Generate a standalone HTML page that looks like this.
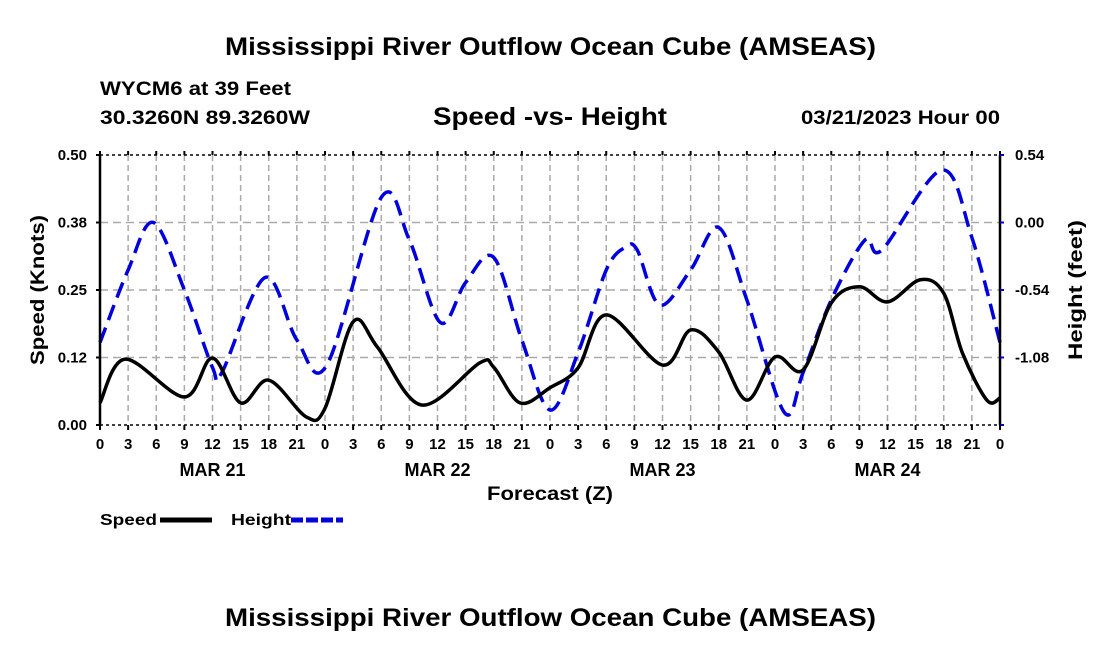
<!DOCTYPE html>
<html><head><meta charset="utf-8"><style>
body{margin:0;background:#fff;}
svg{display:block;font-family:"Liberation Sans",Arial,sans-serif;font-weight:bold;}
</style></head><body>
<svg id="chart" width="1100" height="650" viewBox="0 0 1100 650">
<text x="225" y="55" font-size="25" textLength="651" lengthAdjust="spacingAndGlyphs">Mississippi River Outflow Ocean Cube (AMSEAS)</text>
<text x="100" y="95" font-size="19" textLength="191" lengthAdjust="spacingAndGlyphs">WYCM6 at 39 Feet</text>
<text x="100" y="124" font-size="19" textLength="210" lengthAdjust="spacingAndGlyphs">30.3260N  89.3260W</text>
<text x="433" y="125" font-size="25" textLength="234" lengthAdjust="spacingAndGlyphs">Speed -vs- Height</text>
<text x="801" y="124" font-size="19" textLength="199" lengthAdjust="spacingAndGlyphs">03/21/2023 Hour 00</text>
<g id="grid"></g><g id="series"></g><g id="axes"></g>
<text x="487" y="500" font-size="19" textLength="126" lengthAdjust="spacingAndGlyphs">Forecast (Z)</text>
<text transform="translate(44,290) rotate(-90)" text-anchor="middle" font-size="19" textLength="150" lengthAdjust="spacingAndGlyphs">Speed (Knots)</text>
<text transform="translate(1082,290) rotate(-90)" text-anchor="middle" font-size="19" textLength="140" lengthAdjust="spacingAndGlyphs">Height (feet)</text>
<g>
<text x="100" y="525" font-size="16" textLength="57" lengthAdjust="spacingAndGlyphs">Speed</text>
<line x1="160" y1="520" x2="212" y2="520" stroke="#000" stroke-width="5"/>
<text x="231" y="525" font-size="16" textLength="60" lengthAdjust="spacingAndGlyphs">Height</text>
<line x1="291" y1="520" x2="343" y2="520" stroke="#0000dd" stroke-width="5" stroke-dasharray="12,3"/>
</g>
<text x="225" y="626" font-size="25" textLength="651" lengthAdjust="spacingAndGlyphs">Mississippi River Outflow Ocean Cube (AMSEAS)</text>
</svg>
<script>
const speedHours=[0,2.7,9,12,15,18,22,24,27,29.6,34.3,40.5,42,44.8,48,51,54,60,63,66,69,72,75,78,81,84,87.5,90,92,94.6,96];
const speedValues=[0.041,0.122,0.052,0.124,0.041,0.083,0.015,0.031,0.191,0.144,0.037,0.115,0.107,0.041,0.069,0.106,0.204,0.111,0.176,0.135,0.046,0.126,0.102,0.226,0.256,0.228,0.269,0.244,0.133,0.046,0.05];
const heightHours=[0,3,5.7,9,12,13,17.6,21,24.2,30,33,36.3,39,42,45,48,51,54,56,57.3,59.7,63,66,69,73,75,78,81.6,83.4,89.8,93,96];
const heightValues=[-0.96,-0.38,0.0,-0.54,-1.16,-1.20,-0.44,-0.94,-1.14,0.20,-0.14,-0.80,-0.48,-0.28,-0.94,-1.50,-1.04,-0.38,-0.20,-0.22,-0.66,-0.38,-0.04,-0.62,-1.52,-1.20,-0.62,-0.14,-0.22,0.42,-0.12,-0.96];
const leftTicks=["0.00","0.12","0.25","0.38","0.50"];
const rightTicks=["","-1.08","-0.54","0.00","0.54"];
const hourLabels=["0","3","6","9","12","15","18","21"];
const dayLabels=["MAR 21","MAR 22","MAR 23","MAR 24"];
const X0=100,X1=1000,Y0=155,Y1=425;
const xs=h=>X0+(h/96)*(X1-X0);
const ysL=v=>Y1-(v/0.5)*(Y1-Y0);
const ysR=v=>Y1-((v+1.62)/2.16)*(Y1-Y0);
const NS="http://www.w3.org/2000/svg";
function mk(tag,attrs,parent){const e=document.createElementNS(NS,tag);for(const k in attrs)e.setAttribute(k,attrs[k]);parent.appendChild(e);return e;}
const grid=document.getElementById('grid'),axes=document.getElementById('axes'),series=document.getElementById('series');
for(let i=1;i<32;i++){const x=xs(i*3);
 const l=mk('line',{x1:x,y1:Y0,x2:x,y2:Y1,stroke:'#aaa','stroke-width':1.5,'stroke-dasharray':'6,4'},grid);
 
 }
for(let i=1;i<4;i++){const y=Y1-i*(Y1-Y0)/4;
 const l=mk('line',{x1:X0,y1:y,x2:X1,y2:y,stroke:'#aaa','stroke-width':1.5,'stroke-dasharray':'8,5'},grid);
 
 }
[Y0,Y1].forEach(y=>{const l=mk('line',{x1:X0,y1:y,x2:X1,y2:y,stroke:'#000','stroke-width':1.5,'stroke-dasharray':'3,3'},axes);
 
 });
const la=mk('line',{x1:X0,y1:Y0,x2:X0,y2:Y1,stroke:'#000','stroke-width':2.5},axes);


const ra=mk('line',{x1:X1,y1:Y0,x2:X1,y2:Y1,stroke:'#000','stroke-width':2.5},axes);


for(let i=0;i<5;i++){const y=Y1-i*(Y1-Y0)/4;
 mk('line',{x1:X0-4,y1:y,x2:X0,y2:y,stroke:'#000','stroke-width':2},axes);
 mk('line',{x1:X1,y1:y,x2:X1+4,y2:y,stroke:'#0000cc','stroke-width':2},axes);
 const t=mk('text',{x:X0-13,y:y+5,'text-anchor':'end','font-size':15},axes);t.textContent=leftTicks[i];
 
 
 if(rightTicks[i]){const r=mk('text',{x:X1+15,y:y+5,'font-size':15},axes);r.textContent=rightTicks[i];
 
 }}
for(let i=0;i<=32;i++){const x=xs(i*3);
 mk('line',{x1:x,y1:Y1,x2:x,y2:Y1+5,stroke:'#000','stroke-width':2},axes);
 mk('line',{x1:x,y1:Y0,x2:x,y2:Y0-4,stroke:'#000','stroke-width':2},axes);
 const t=mk('text',{x:x,y:449,'text-anchor':'middle','font-size':15},axes);t.textContent=hourLabels[i%8];
 
 }
dayLabels.forEach((d,i)=>{const t=mk('text',{x:xs(i*24+12),y:476,'text-anchor':'middle','font-size':18},axes);t.textContent=d;
 
 });
function smooth(pts){let d=`M${pts[0][0]},${pts[0][1]}`;
 for(let i=0;i<pts.length-1;i++){const p0=pts[Math.max(0,i-1)],p1=pts[i],p2=pts[i+1],p3=pts[Math.min(pts.length-1,i+2)];
  d+=` C${p1[0]+(p2[0]-p0[0])/6},${p1[1]+(p2[1]-p0[1])/6} ${p2[0]-(p3[0]-p1[0])/6},${p2[1]-(p3[1]-p1[1])/6} ${p2[0]},${p2[1]}`;}
 return d;}
const hp=mk('path',{d:smooth(heightHours.map((h,i)=>[xs(h),ysR(heightValues[i])])),fill:'none',stroke:'#0000dd','stroke-width':3.5,'stroke-dasharray':'16,8'},series);


const sp=mk('path',{d:smooth(speedHours.map((h,i)=>[xs(h),ysL(speedValues[i])])),fill:'none',stroke:'#000','stroke-width':3.5},series);


</script>
</body></html>
